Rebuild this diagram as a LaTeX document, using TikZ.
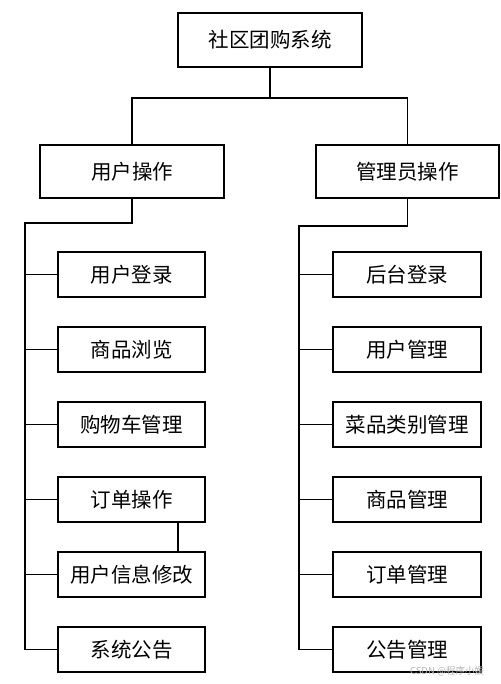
\documentclass[tikz,border=0pt]{standalone}
\usepackage{fontspec}
\newfontfamily\cjk{Noto Sans CJK SC}
\usepackage{tikz}
\usetikzlibrary{positioning}
\begin{document}
\begin{tikzpicture}[
  x=1pt,y=1pt,
  node distance=30pt,
  every node/.style={font=\cjk\fontsize{20.5}{24}\selectfont,align=center},
  topbox/.style={draw,line width=1.3pt,outer sep=0pt,minimum width=184pt,minimum height=54pt,inner sep=0pt},
  leaf/.style={draw,line width=1.3pt,outer sep=0pt,minimum width=147pt,minimum height=45pt,inner sep=0pt},
  conn/.style={line width=1.3pt}
]
\useasboundingbox (0,0) rectangle (500,-684);
\node[topbox] (root) at (270,-40) {社区团购系统};
\node[topbox,minimum height=53pt] (user) at (132,-171.5) {用户操作};
\node[topbox,minimum width=183pt,minimum height=53pt] (admin) at (407.5,-171.5) {管理员操作};
\node[leaf] (u1) at (131.5,-274.5) {用户登录};
\node[leaf,below=of u1] (u2) {商品浏览};
\node[leaf,below=of u2] (u3) {购物车管理};
\node[leaf,below=of u3] (u4) {订单操作};
\node[leaf,below=of u4] (u5) {用户信息修改};
\node[leaf,below=of u5] (u6) {系统公告};
\node[leaf,minimum width=148pt] (a1) at (407,-274.5) {后台登录};
\node[leaf,minimum width=148pt,below=of a1] (a2) {用户管理};
\node[leaf,minimum width=148pt,below=of a2] (a3) {菜品类别管理};
\node[leaf,minimum width=148pt,below=of a3] (a4) {商品管理};
\node[leaf,minimum width=148pt,below=of a4] (a5) {订单管理};
\node[leaf,minimum width=148pt,below=of a5] (a6) {公告管理};
\node[text=gray!60,font=\cjk\fontsize{9.5}{11}\selectfont] (mark) at (447,-671) {CSDN @程序小媛};
\coordinate (split) at (270,-98);
\coordinate (lspine) at (25,-223);
\coordinate (rspine) at (299,-226);
\draw[conn] (root.south) -- (split);
\draw[conn] (user.north) |- (split) -| (admin.north);
\draw[conn] (user.south) |- (lspine) |- (u6.west);
\draw[conn] (admin.south) |- (rspine) |- (a6.west);
\foreach \i in {1,...,5} {
  \draw[conn] (lspine |- u\i.west) -- (u\i.west);
  \draw[conn] (rspine |- a\i.west) -- (a\i.west);
}
\draw[conn] ([xshift=46.5pt]u4.south) -- ([xshift=46.5pt]u5.north);
\end{tikzpicture}
\end{document}
